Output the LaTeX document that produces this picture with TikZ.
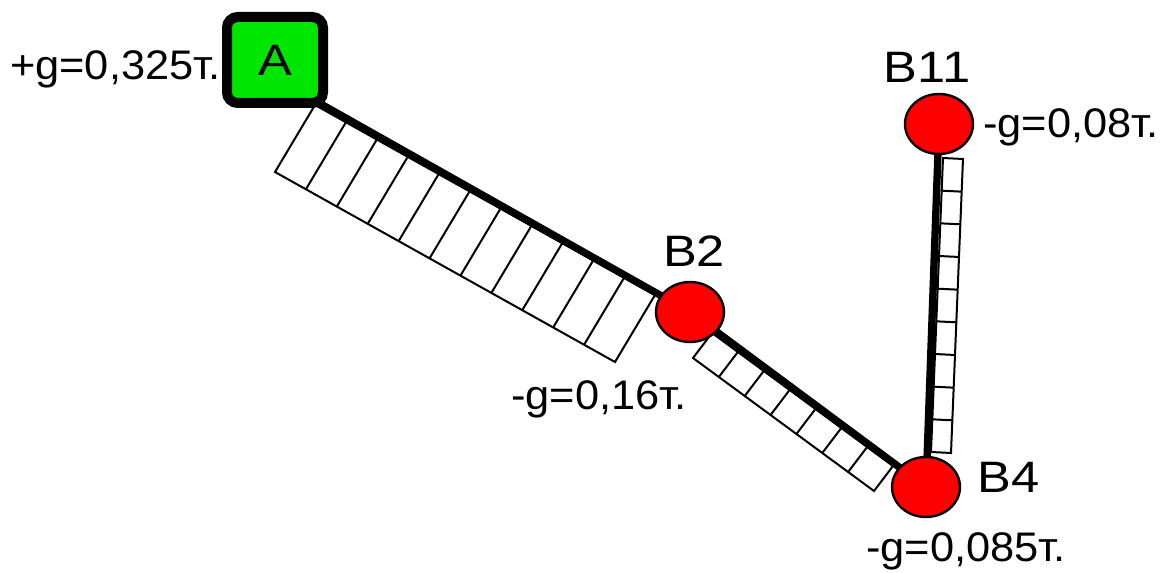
\documentclass[tikz,border=0pt]{standalone}
\usepackage{graphicx}
\usepackage{fontspec}
\setmainfont{Liberation Sans}
\usetikzlibrary{calc,shapes.geometric}
\pgfdeclarelayer{bg}
\pgfsetlayers{bg,main}
\definecolor{agreen}{RGB}{0,230,0}
% #1,#2: edge along the beam; #3,#4: opposite edge; #5 cells; #6 = #5-1
\newcommand\cellbar[6]{%
  \filldraw[barline,fill=white] (#1) -- (#2) -- (#4) -- (#3) -- cycle;
  \foreach \k in {1,...,#6}{\draw[barline] ($(#1)!\k/#5!(#2)$) -- ($(#3)!\k/#5!(#4)$);}%
}
\newcommand\valtext[1]{\scalebox{1.05}[1]{#1}}
\newcommand\nametext[1]{\scalebox{1.15}[1]{#1}}
\begin{document}
\begin{tikzpicture}[x=0.75pt,y=-0.75pt,
  joint/.style={ellipse,draw=black,line width=1.8pt,fill=red,minimum width=51pt,minimum height=45pt,inner sep=0pt},
  anchorbox/.style={rectangle,rounded corners=8pt,draw=black,line width=7.5pt,fill=agreen,minimum width=72pt,minimum height=64.5pt,inner sep=0pt,font=\fontsize{33}{36}\selectfont},
  beam/.style={line width=5.5pt},
  barline/.style={line width=1.5pt},
  vallabel/.style={inner sep=0pt,font=\fontsize{31}{34}\selectfont},
  namelabel/.style={inner sep=0pt,font=\fontsize{33}{36}\selectfont}]
\useasboundingbox (0,0) rectangle (1172,573);

% joints
\node[anchorbox] (A) at (275,60) {\nametext{A}};
\node[joint] (B2) at (690,312) {};
\node[joint] (B4) at (926,487) {};
\node[joint] (B11) at (939,124) {};

% labels
\node[vallabel,anchor=base east] (lA) at (221,80) {\valtext{+g=0,325т.}};
\node[namelabel,anchor=base] (lB2) at (694,267) {\nametext{B2}};
\node[namelabel,anchor=base] (lB11) at (927,83) {\nametext{B11}};
\node[namelabel,anchor=base west] (lB4) at (977,493) {\nametext{B4}};
\node[vallabel,anchor=base west] (l11) at (983,138) {\valtext{-g=0,08т.}};
\node[vallabel,anchor=base west] (l2) at (511,410) {\valtext{-g=0,16т.}};
\node[vallabel,anchor=base west] (l4) at (866,562) {\valtext{-g=0,085т.}};

\begin{pgfonlayer}{bg}
  % distributed load bars
  \coordinate (p1) at (315,105); \coordinate (p2) at (655,295);
  \coordinate (p3) at (275,172); \coordinate (p4) at (615,362);
  \cellbar{p1}{p2}{p3}{p4}{11}{10}
  \coordinate (q1) at (712,333); \coordinate (q2) at (893,466);
  \coordinate (q3) at (693,358); \coordinate (q4) at (874,491);
  \cellbar{q1}{q2}{q3}{q4}{7}{6}
  \coordinate (r1) at (943,158); \coordinate (r2) at (931,452);
  \coordinate (r3) at (963,159); \coordinate (r4) at (951,453);
  \cellbar{r1}{r2}{r3}{r4}{9}{8}
  % beams
  \coordinate (a1) at ($(A.south east)!-20pt!(B2.center)$);
  \draw[beam] (a1) -- (B2.center);
  \draw[beam] (B2.center) -- (B4.center);
  \draw[beam] (B11.center) -- (B4.center);
\end{pgfonlayer}
\end{tikzpicture}
\end{document}
